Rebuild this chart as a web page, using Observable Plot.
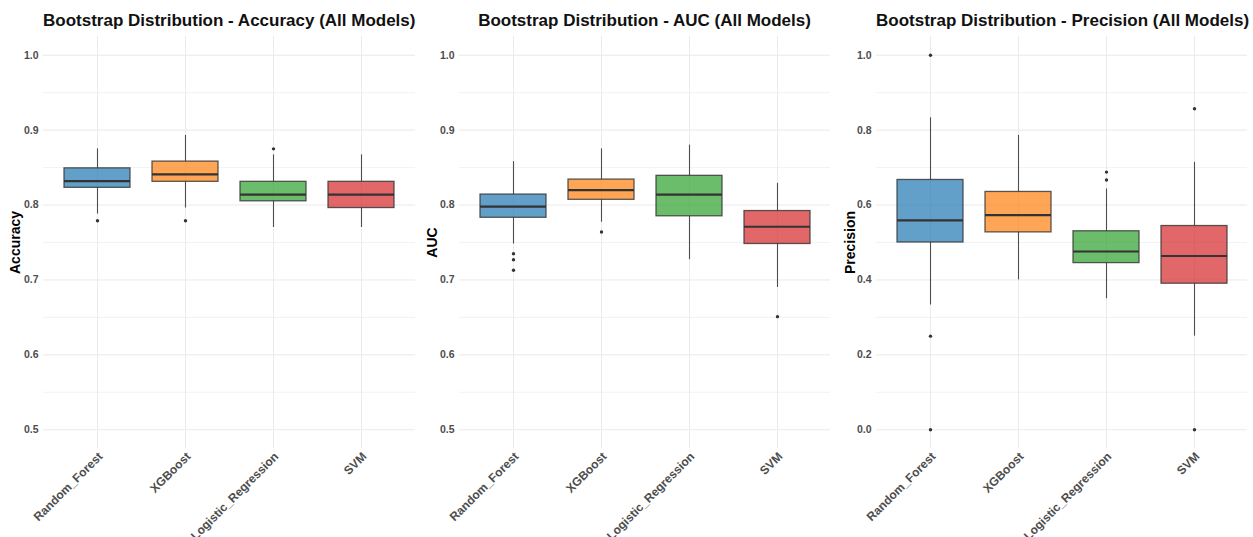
<!DOCTYPE html>
<html>
<head>
<meta charset="utf-8">
<script src="https://cdn.jsdelivr.net/npm/d3@7"></script>
<script src="https://cdn.jsdelivr.net/npm/@observablehq/plot@0.6"></script>
<style>
  body { margin: 0; background: #fff; font-family: "Liberation Sans", Arial, sans-serif; }
  #wrap { display: flex; width: 1253px; height: 537px; overflow: hidden; }
  .panel { flex: none; }
  .title {
    box-sizing: border-box; height: 30px; padding-top: 12px;
    font-size: 17px; line-height: 17px; font-weight: bold; color: #111;
    text-align: center; white-space: nowrap;
  }
  svg { display: block; }
</style>
</head>
<body>
<div id="wrap"></div>
<script>
// Models and their fill colours
const models = ["Random_Forest", "XGBoost", "Logistic_Regression", "SVM"];
const palette = ["#1f77b4", "#ff7f0e", "#2ca02c", "#d62728"];

// Accuracy: whisker ends, quartiles and median per model
const accLow = [0.788, 0.796, 0.770, 0.770];
const accQ1  = [0.823, 0.831, 0.805, 0.796];
const accMed = [0.832, 0.841, 0.814, 0.814];
const accQ3  = [0.849, 0.858, 0.831, 0.831];
const accHigh = [0.875, 0.893, 0.867, 0.867];
const accOutModel = ["Random_Forest", "XGBoost", "Logistic_Regression"];
const accOutValue = [0.779, 0.779, 0.875];

// AUC
const aucLow = [0.748, 0.777, 0.727, 0.690];
const aucQ1  = [0.783, 0.807, 0.785, 0.748];
const aucMed = [0.798, 0.820, 0.814, 0.771];
const aucQ3  = [0.814, 0.834, 0.839, 0.792];
const aucHigh = [0.858, 0.875, 0.880, 0.829];
const aucOutModel = ["Random_Forest", "Random_Forest", "Random_Forest", "XGBoost", "SVM"];
const aucOutValue = [0.735, 0.727, 0.713, 0.764, 0.651];

// Precision
const precLow = [0.333, 0.400, 0.350, 0.250];
const precQ1  = [0.500, 0.527, 0.445, 0.390];
const precMed = [0.559, 0.573, 0.476, 0.464];
const precQ3  = [0.667, 0.635, 0.530, 0.544];
const precHigh = [0.833, 0.786, 0.643, 0.714];
const precOutModel = ["Random_Forest", "Random_Forest", "Random_Forest", "Logistic_Regression", "Logistic_Regression", "SVM", "SVM"];
const precOutValue = [1.0, 0.25, 0.0, 0.688, 0.667, 0.857, 0.0];

// Axis ticks
const accTicks = [0.5, 0.6, 0.7, 0.8, 0.9, 1.0];
const accMinor = [0.55, 0.65, 0.75, 0.85, 0.95];
const precTicks = [0.0, 0.2, 0.4, 0.6, 0.8, 1.0];
const precMinor = [0.1, 0.3, 0.5, 0.7, 0.9];

const font = '"Liberation Sans", Arial, sans-serif';

function panel({title, label, domain, ticks, minor, low, q1, med, q3, high, outModel, outValue, width, marginLeft, marginRight}) {
  const rows = models.map((m, i) => ({model: m, lo: low[i], q1: q1[i], med: med[i], q3: q3[i], hi: high[i]}));
  const outliers = outModel.map((m, i) => ({model: m, value: outValue[i]}));
  const fmt = d3.format(".1f");

  const chart = Plot.plot({
    width, height: 507,
    marginTop: 6, marginBottom: 89, marginLeft, marginRight,
    style: {fontFamily: font, background: "#fff", overflow: "visible"},
    x: {type: "band", domain: models, paddingInner: 0.25, paddingOuter: 0.225, label: null},
    y: {domain, label: null},
    color: {domain: models, range: palette},
    marks: [
      Plot.gridY(minor, {stroke: "#efefef", strokeOpacity: 1, strokeWidth: 0.8}),
      Plot.gridY(ticks, {stroke: "#e9e9e9", strokeOpacity: 1, strokeWidth: 1}),
      Plot.gridX({stroke: "#ebebeb", strokeOpacity: 1, strokeWidth: 1}),
      Plot.axisY(ticks, {tickSize: 0, tickPadding: 5, fontSize: 10.5, fontWeight: "bold", fill: "#4d4d4d", tickFormat: fmt, label: null}),
      Plot.axisX({tickSize: 0, tickPadding: 6, dx: 3, tickRotate: -45, fontSize: 12, fontWeight: "bold", fill: "#4d4d4d", label: null}),
      Plot.text([label], {frameAnchor: "left", rotate: -90, dx: 15 - marginLeft, textAnchor: "middle", fontSize: 14, fontWeight: "bold", fill: "#000"}),
      Plot.ruleX(rows, {x: "model", y1: "q3", y2: "hi", stroke: "#333", strokeOpacity: 0.85, strokeWidth: 1.1}),
      Plot.ruleX(rows, {x: "model", y1: "lo", y2: "q1", stroke: "#333", strokeOpacity: 0.85, strokeWidth: 1.1}),
      Plot.barY(rows, {x: "model", y1: "q1", y2: "q3", fill: "model", fillOpacity: 0.7, stroke: "#333", strokeOpacity: 0.8, strokeWidth: 1.3}),
      Plot.tickY(rows, {x: "model", y: "med", stroke: "#333", strokeWidth: 2.2}),
      Plot.dot(outliers, {x: "model", y: "value", r: 1.7, fill: "#333", stroke: "none"})
    ]
  });

  const div = document.createElement("div");
  div.className = "panel";
  div.style.width = width + "px";
  const t = document.createElement("div");
  t.className = "title";
  t.style.paddingLeft = marginLeft + "px";
  t.style.paddingRight = marginRight + "px";
  t.textContent = title;
  div.appendChild(t);
  div.appendChild(chart);
  return div;
}

const wrap = document.getElementById("wrap");
wrap.appendChild(panel({
  title: "Bootstrap Distribution - Accuracy (All Models)", label: "Accuracy",
  domain: [0.475, 1.025], ticks: accTicks, minor: accMinor,
  low: accLow, q1: accQ1, med: accMed, q3: accQ3, high: accHigh,
  outModel: accOutModel, outValue: accOutValue,
  width: 417, marginLeft: 43, marginRight: 2
}));
wrap.appendChild(panel({
  title: "Bootstrap Distribution - AUC (All Models)", label: "AUC",
  domain: [0.475, 1.025], ticks: accTicks, minor: accMinor,
  low: aucLow, q1: aucQ1, med: aucMed, q3: aucQ3, high: aucHigh,
  outModel: aucOutModel, outValue: aucOutValue,
  width: 418, marginLeft: 42, marginRight: 5
}));
wrap.appendChild(panel({
  title: "Bootstrap Distribution - Precision (All Models)", label: "Precision",
  domain: [-0.05, 1.05], ticks: precTicks, minor: precMinor,
  low: precLow, q1: precQ1, med: precMed, q3: precQ3, high: precHigh,
  outModel: precOutModel, outValue: precOutValue,
  width: 418, marginLeft: 41, marginRight: 6
}));
</script>
</body>
</html>
